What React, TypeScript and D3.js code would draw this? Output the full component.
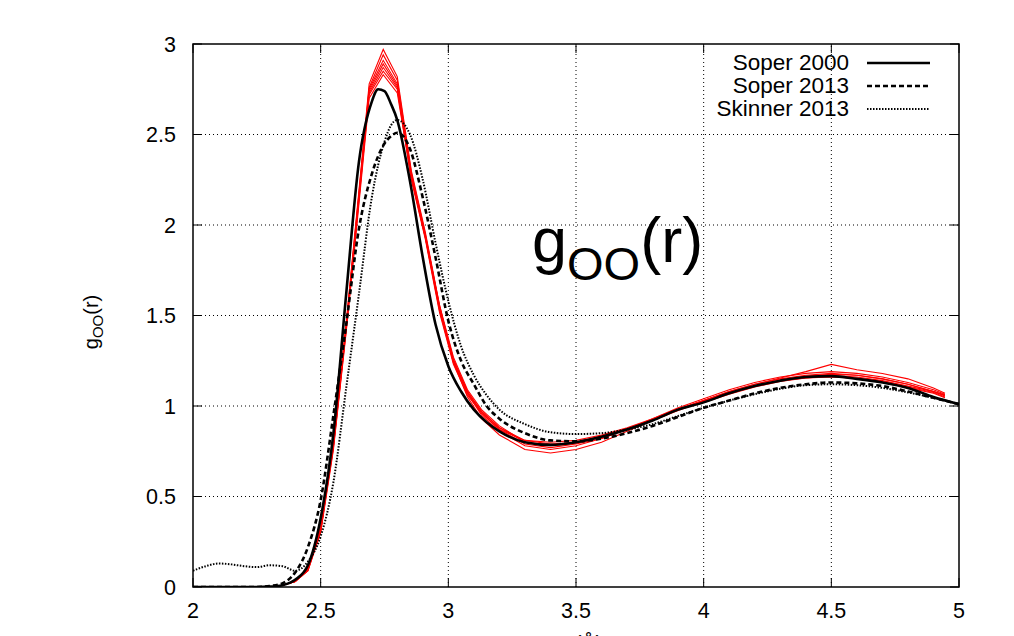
import React from 'react';
import * as d3 from 'd3';

// r grid for the three reference curves
const rRef = [2.0, 2.05, 2.1, 2.15, 2.2, 2.25, 2.3, 2.35, 2.4, 2.45, 2.5, 2.55, 2.6, 2.65, 2.7, 2.725, 2.75, 2.775, 2.8, 2.85, 2.9, 2.95, 3.0, 3.05, 3.1, 3.15, 3.2, 3.3, 3.4, 3.5, 3.6, 3.7, 3.8, 3.9, 4.0, 4.1, 4.2, 4.3, 4.4, 4.5, 4.6, 4.7, 4.8, 4.9, 5.0];

const soper2000 = [0, 0, 0, 0, 0, 0, 0.002, 0.01, 0.04, 0.12, 0.38, 0.85, 1.62, 2.35, 2.68, 2.75, 2.74, 2.67, 2.58, 2.24, 1.82, 1.45, 1.22, 1.08, 0.98, 0.91, 0.86, 0.8, 0.785, 0.8, 0.83, 0.87, 0.92, 0.98, 1.02, 1.07, 1.11, 1.14, 1.16, 1.165, 1.15, 1.13, 1.1, 1.05, 1.01];
const soper2013 = [0, 0, 0, 0, 0, 0, 0.005, 0.02, 0.08, 0.22, 0.48, 0.95, 1.45, 1.98, 2.28, 2.38, 2.45, 2.49, 2.51, 2.42, 2.15, 1.82, 1.47, 1.25, 1.12, 1.0, 0.93, 0.85, 0.81, 0.805, 0.82, 0.85, 0.89, 0.94, 0.99, 1.03, 1.07, 1.1, 1.12, 1.13, 1.125, 1.11, 1.08, 1.045, 1.01];
const skinner2013 = [0.09, 0.115, 0.13, 0.125, 0.115, 0.11, 0.12, 0.115, 0.09, 0.14, 0.28, 0.58, 1.1, 1.62, 2.15, 2.33, 2.46, 2.55, 2.58, 2.5, 2.25, 1.9, 1.58, 1.33, 1.17, 1.06, 0.98, 0.9, 0.855, 0.845, 0.85, 0.87, 0.9, 0.945, 0.99, 1.03, 1.065, 1.095, 1.115, 1.12, 1.115, 1.1, 1.075, 1.045, 1.01];

// r grid for the red simulation curves
const rSim = [2.3, 2.35, 2.4, 2.45, 2.5, 2.55, 2.6, 2.635, 2.69, 2.745, 2.8, 2.855, 2.91, 2.965, 3.02, 3.075, 3.13, 3.2, 3.3, 3.4, 3.5, 3.6, 3.7, 3.8, 3.9, 4.0, 4.1, 4.2, 4.3, 4.4, 4.5, 4.6, 4.7, 4.8, 4.9, 4.945];

const sim1 = [0, 0.01, 0.03, 0.1, 0.33, 0.8, 1.46, 1.97, 2.78, 2.97, 2.82, 2.3, 1.96, 1.56, 1.24, 1.05, 0.93, 0.84, 0.76, 0.74, 0.76, 0.8, 0.86, 0.92, 0.98, 1.03, 1.08, 1.12, 1.155, 1.19, 1.23, 1.2, 1.18, 1.15, 1.1, 1.07];
const sim2 = [0, 0.01, 0.03, 0.1, 0.33, 0.8, 1.45, 1.96, 2.76, 2.94, 2.8, 2.29, 1.95, 1.55, 1.25, 1.07, 0.95, 0.86, 0.78, 0.76, 0.78, 0.82, 0.87, 0.93, 0.99, 1.04, 1.09, 1.13, 1.16, 1.18, 1.19, 1.18, 1.16, 1.13, 1.09, 1.065];
const sim3 = [0, 0.01, 0.03, 0.1, 0.32, 0.79, 1.44, 1.95, 2.75, 2.91, 2.78, 2.28, 1.94, 1.55, 1.26, 1.08, 0.96, 0.87, 0.79, 0.77, 0.79, 0.82, 0.87, 0.92, 0.98, 1.03, 1.08, 1.12, 1.15, 1.17, 1.18, 1.17, 1.15, 1.12, 1.08, 1.06];
const sim4 = [0, 0.01, 0.03, 0.1, 0.32, 0.78, 1.44, 1.94, 2.74, 2.89, 2.77, 2.27, 1.93, 1.54, 1.25, 1.08, 0.97, 0.88, 0.8, 0.78, 0.795, 0.83, 0.87, 0.92, 0.975, 1.025, 1.07, 1.11, 1.14, 1.16, 1.17, 1.16, 1.14, 1.11, 1.08, 1.055];
const sim5 = [0, 0.01, 0.03, 0.09, 0.31, 0.78, 1.43, 1.93, 2.73, 2.87, 2.76, 2.26, 1.93, 1.53, 1.24, 1.07, 0.97, 0.88, 0.81, 0.79, 0.8, 0.835, 0.875, 0.925, 0.98, 1.02, 1.065, 1.105, 1.135, 1.155, 1.16, 1.155, 1.135, 1.105, 1.075, 1.05];
const sim6 = [0, 0.01, 0.03, 0.09, 0.31, 0.77, 1.42, 1.92, 2.72, 2.85, 2.75, 2.25, 1.92, 1.52, 1.23, 1.06, 0.96, 0.87, 0.81, 0.8, 0.81, 0.84, 0.88, 0.93, 0.985, 1.03, 1.075, 1.11, 1.14, 1.155, 1.165, 1.15, 1.13, 1.1, 1.07, 1.045];
const sim7 = [0, 0.01, 0.03, 0.09, 0.3, 0.76, 1.41, 1.9, 2.7, 2.83, 2.73, 2.26, 1.94, 1.56, 1.27, 1.09, 0.98, 0.89, 0.8, 0.785, 0.8, 0.83, 0.87, 0.925, 0.98, 1.025, 1.07, 1.11, 1.145, 1.165, 1.175, 1.17, 1.15, 1.12, 1.08, 1.06];
const simSeries = [sim1, sim2, sim3, sim4, sim5, sim6, sim7];

const xTicks = [2, 2.5, 3, 3.5, 4, 4.5, 5];
const yTicks = [0, 0.5, 1, 1.5, 2, 2.5, 3];

const legendItems = [
  { label: 'Soper 2000', dash: 'none', width: 2.6 },
  { label: 'Soper 2013', dash: '5,3', width: 2.6 },
  { label: 'Skinner 2013', dash: '1.5,1.5', width: 2 },
];

const W = 1014;
const H = 636;
const margin = { left: 193, right: 55, top: 44, bottom: 49 };
const FONT = '"Liberation Sans", Arial, Helvetica, sans-serif';

export default function App() {
  const x = d3.scaleLinear().domain([2, 5]).range([margin.left, W - margin.right]);
  const y = d3.scaleLinear().domain([0, 3]).range([H - margin.bottom, margin.top]);

  const smooth = d3.line<[number, number]>()
    .x(d => x(d[0]))
    .y(d => y(d[1]))
    .curve(d3.curveMonotoneX);
  const straight = d3.line<[number, number]>()
    .x(d => x(d[0]))
    .y(d => y(d[1]));

  const pairs = (rs: number[], gs: number[]) => rs.map((r, i) => [r, gs[i]] as [number, number]);

  const x0 = x(2), x1 = x(5), y0 = y(0), y1 = y(3);
  const tick = 9;

  return (
    <svg width={W} height={H} style={{ position: 'absolute', left: 0, top: 0, background: '#fff' }} fontFamily={FONT}>
      <defs>
        <clipPath id="plot">
          <rect x={x0} y={y1} width={x1 - x0} height={y0 - y1} />
        </clipPath>
      </defs>

      {/* grid */}
      <g stroke="#000" strokeWidth={1} strokeDasharray="1,3">
        {xTicks.slice(1, -1).map(t => (
          <line key={'gx' + t} x1={x(t)} x2={x(t)} y1={y0} y2={y1} />
        ))}
        {yTicks.slice(1, -1).map(t => (
          <line key={'gy' + t} x1={x0} x2={x1} y1={y(t)} y2={y(t)} />
        ))}
      </g>

      {/* curves */}
      <g clipPath="url(#plot)" fill="none">
        {simSeries.map((s, i) => (
          <path key={'sim' + i} d={straight(pairs(rSim, s)) || ''} stroke="#ff0000" strokeWidth={1.1} />
        ))}
        <path d={smooth(pairs(rRef, skinner2013)) || ''} stroke="#000" strokeWidth={2} strokeDasharray="1.5,1.5" />
        <path d={smooth(pairs(rRef, soper2013)) || ''} stroke="#000" strokeWidth={2.6} strokeDasharray="5,3" />
        <path d={smooth(pairs(rRef, soper2000)) || ''} stroke="#000" strokeWidth={2.6} />
      </g>

      {/* frame and ticks */}
      <rect x={x0} y={y1} width={x1 - x0} height={y0 - y1} fill="none" stroke="#000" strokeWidth={1.5} />
      <g stroke="#000" strokeWidth={1}>
        {xTicks.map(t => (
          <g key={'tx' + t}>
            <line x1={x(t)} x2={x(t)} y1={y0} y2={y0 - tick} />
            <line x1={x(t)} x2={x(t)} y1={y1} y2={y1 + tick} />
          </g>
        ))}
        {yTicks.map(t => (
          <g key={'ty' + t}>
            <line x1={x0} x2={x0 + tick} y1={y(t)} y2={y(t)} />
            <line x1={x1} x2={x1 - tick} y1={y(t)} y2={y(t)} />
          </g>
        ))}
      </g>

      {/* tick labels */}
      <g fontSize={21.5} fill="#000">
        {xTicks.map(t => (
          <text key={'lx' + t} x={x(t)} y={y0 + 31} textAnchor="middle">{t}</text>
        ))}
        {yTicks.map(t => (
          <text key={'ly' + t} x={176} y={y(t) + 7.5} textAnchor="end">{t}</text>
        ))}
      </g>

      {/* axis labels */}
      <text transform={`translate(98,322) rotate(-90)`} fontSize={20} textAnchor="middle">
        g<tspan fontSize={15} dy={5}>OO</tspan><tspan dy={-5}>(r)</tspan>
      </text>
      <text x={582} y={650} fontSize={21} textAnchor="middle">r (Å)</text>

      {/* big title inside plot */}
      <text x={532} y={262} fontSize={63}>
        g<tspan fontSize={47} dy={18}>OO</tspan><tspan dy={-18}>(r)</tspan>
      </text>

      {/* legend */}
      {legendItems.map((d, i) => (
        <g key={d.label}>
          <text x={849} y={70 + i * 23} fontSize={22.5} textAnchor="end">{d.label}</text>
          <line x1={867} x2={930} y1={63 + i * 23} y2={63 + i * 23} stroke="#000" strokeWidth={d.width} strokeDasharray={d.dash} />
        </g>
      ))}
    </svg>
  );
}
